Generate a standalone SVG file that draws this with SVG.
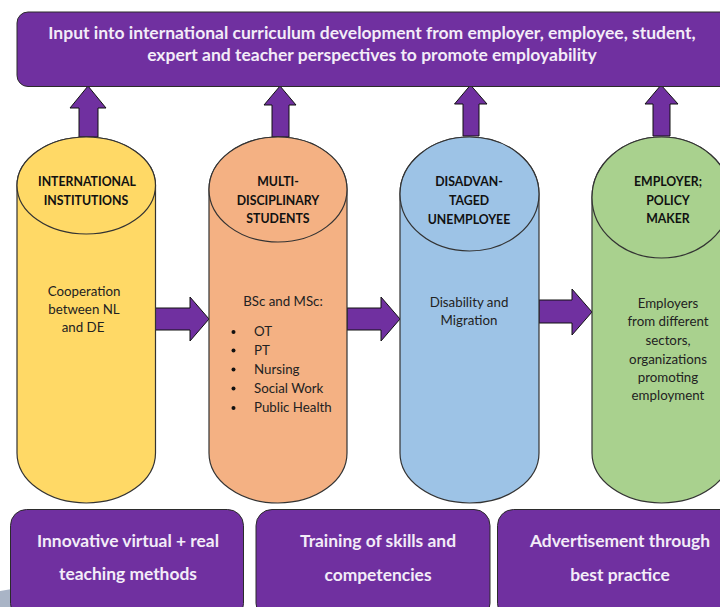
<svg xmlns="http://www.w3.org/2000/svg" width="720" height="607" viewBox="0 0 720 607">
<style>
text{font-family:"Lato","Noto Sans","Liberation Sans",sans-serif;text-anchor:middle}
.box{fill:#7030a0;stroke:#2b2b2b;stroke-width:1}
.arr{fill:#7030a0;stroke:#111;stroke-width:1}
.cyl{stroke:#333;stroke-width:1.2}
.w{fill:#f3ecf8;font-weight:700}
.top{font-size:17.5px}
.bot{font-size:17.4px}
.h{font-size:12.3px;font-weight:700;fill:#111}
.b{font-size:13.3px;fill:#222}
.s{text-anchor:start}
</style>
<path d="M0 591L12 589V607H0Z" fill="#a9b4c6"/>
<g id="connectors">
<path class="arr" d="M79 137V108H70L88 86L106 108H98V137Z"/>
<path class="arr" d="M272 137V105H264L280 86L296 105H289V137Z"/>
<path class="arr" d="M463 136V104H454.500L470.500 85L487 104H479V136Z"/>
<path class="arr" d="M653 136V104H645L661 85L678 104H670V136Z"/>
<path class="arr" d="M155 308H190V297L209 319L190 341V330H155Z"/>
<path class="arr" d="M347 308H381V297L400 319L381 341V330H347Z"/>
<path class="arr" d="M539 300H572V289L592 312L572 335V323H539Z"/>
</g>
<g id="top-box">
<rect class="box" x="17" y="12" width="720" height="74.500" rx="11"/>
<text class="w top" x="372" y="39">Input into international curriculum development from employer, employee, student,</text>
<text class="w top" x="372" y="61">expert and teacher perspectives to promote employability</text>
</g>
<g id="node-international">
<path class="cyl" fill="#ffd966" d="M17 185.500A69.250 48.500 0 0 1 155.500 185.500V453A69.250 50 0 0 1 17 453Z"/>
<ellipse class="cyl" fill="#ffd966" cx="86.250" cy="185.500" rx="69.250" ry="48.500"/>
<text class="h" x="87" y="186">INTERNATIONAL</text>
<text class="h" x="86" y="205">INSTITUTIONS</text>
<text class="b" x="84" y="296">Cooperation</text>
<text class="b" x="84" y="314">between NL</text>
<text class="b" x="83" y="332">and DE</text>
</g>
<g id="node-students">
<path class="cyl" fill="#f4b183" d="M209 189.500A69 52.500 0 0 1 347 189.500V453A69 50 0 0 1 209 453Z"/>
<ellipse class="cyl" fill="#f4b183" cx="278" cy="189.500" rx="69" ry="52.500"/>
<text class="h" x="278" y="186">MULTI-</text>
<text class="h" x="278" y="205">DISCIPLINARY</text>
<text class="h" x="278" y="223">STUDENTS</text>
<text class="b" x="283" y="306">BSc and MSc:</text>
<g fill="#111">
<circle cx="233.500" cy="332" r="2"/><circle cx="233.500" cy="350.500" r="2"/><circle cx="233.500" cy="369.500" r="2"/><circle cx="233.500" cy="388.500" r="2"/><circle cx="233.500" cy="408" r="2"/>
</g>
<text class="b s" x="254" y="336">OT</text>
<text class="b s" x="254" y="355">PT</text>
<text class="b s" x="254" y="374">Nursing</text>
<text class="b s" x="254" y="393">Social Work</text>
<text class="b s" x="254" y="412">Public Health</text>
</g>
<g id="node-unemployee">
<path class="cyl" fill="#9dc3e6" d="M400 194A69.500 57 0 0 1 539 194V453A69.500 50 0 0 1 400 453Z"/>
<ellipse class="cyl" fill="#9dc3e6" cx="469.500" cy="194" rx="69.500" ry="57"/>
<text class="h" x="469" y="186">DISADVAN-</text>
<text class="h" x="469" y="205">TAGED</text>
<text class="h" x="469" y="224">UNEMPLOYEE</text>
<text class="b" x="469" y="307">Disability and</text>
<text class="b" x="469" y="325">Migration</text>
</g>
<g id="node-employer">
<path class="cyl" fill="#a9d18e" d="M592 197.500A69.500 60.500 0 0 1 731 197.500V453A69.500 50 0 0 1 592 453Z"/>
<ellipse class="cyl" fill="#a9d18e" cx="661.500" cy="197.500" rx="69.500" ry="60.500"/>
<text class="h" x="668" y="186">EMPLOYER;</text>
<text class="h" x="668" y="205">POLICY</text>
<text class="h" x="668" y="223">MAKER</text>
<text class="b" x="668" y="308">Employers</text>
<text class="b" x="668" y="326">from different</text>
<text class="b" x="668" y="345">sectors,</text>
<text class="b" x="668" y="364">organizations</text>
<text class="b" x="668" y="382">promoting</text>
<text class="b" x="668" y="400">employment</text>
</g>
<g id="box-methods">
<rect class="box" x="10.500" y="509.500" width="233" height="110" rx="16"/>
<text class="w bot" x="128" y="547">Innovative virtual + real</text>
<text class="w bot" x="128" y="580">teaching methods</text>
</g>
<g id="box-skills">
<rect class="box" x="256" y="509.500" width="234" height="110" rx="16"/>
<text class="w bot" x="378" y="547">Training of skills and</text>
<text class="w bot" x="378" y="581">competencies</text>
</g>
<g id="box-advert">
<rect class="box" x="497.500" y="509.500" width="240" height="110" rx="16"/>
<text class="w bot" x="620" y="547">Advertisement through</text>
<text class="w bot" x="620" y="581">best practice</text>
</g>
</svg>
